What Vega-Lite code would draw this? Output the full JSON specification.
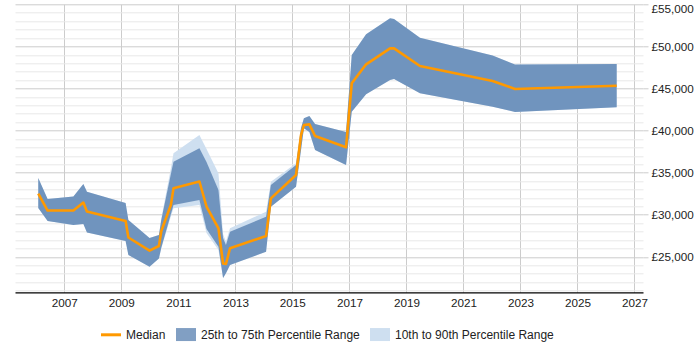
{
  "$schema": "https://vega.github.io/schema/vega-lite/v6.json",
  "width": 628,
  "height": 288,
  "autosize": {"type": "none"},
  "padding": {"left": 15, "top": 4.3, "right": 57, "bottom": 57.7},
  "background": "white",
  "config": {
    "view": {"stroke": null},
    "font": "Liberation Sans"
  },
  "data": {
    "values": [
      {"date": "2006-02-01", "p10": 30800, "p25": 30800, "median": 32520, "p75": 34360, "p90": 34360},
      {"date": "2006-06-01", "p10": 29260, "p25": 29260, "median": 30500, "p75": 31870, "p90": 31870},
      {"date": "2007-04-27", "p10": 28780, "p25": 28780, "median": 30500, "p75": 32170, "p90": 32170},
      {"date": "2007-09-02", "p10": 28900, "p25": 28900, "median": 31450, "p75": 33650, "p90": 33650},
      {"date": "2007-10-18", "p10": 27890, "p25": 27890, "median": 30390, "p75": 32740, "p90": 32740},
      {"date": "2009-02-24", "p10": 26880, "p25": 26880, "median": 29260, "p75": 31390, "p90": 31390},
      {"date": "2009-04-01", "p10": 25220, "p25": 25220, "median": 27300, "p75": 29380, "p90": 29380},
      {"date": "2009-12-28", "p10": 23830, "p25": 23830, "median": 25730, "p75": 27240, "p90": 27240},
      {"date": "2010-04-27", "p10": 24800, "p25": 24800, "median": 26290, "p75": 27590, "p90": 27590},
      {"date": "2010-05-28", "p10": 26000, "p25": 26120, "median": 28070, "p75": 29400, "p90": 29600},
      {"date": "2010-09-27", "p10": 29800, "p25": 30060, "median": 31160, "p75": 34800, "p90": 35500},
      {"date": "2010-10-31", "p10": 30770, "p25": 31160, "median": 33140, "p75": 36300, "p90": 37300},
      {"date": "2011-09-28", "p10": 31160, "p25": 31750, "median": 33950, "p75": 37890, "p90": 39470},
      {"date": "2011-12-28", "p10": 27830, "p25": 28310, "median": 30980, "p75": 36270, "p90": 37810},
      {"date": "2012-05-29", "p10": 25800, "p25": 26200, "median": 28390, "p75": 32940, "p90": 34920},
      {"date": "2012-07-27", "p10": 22480, "p25": 22480, "median": 24210, "p75": 27240, "p90": 27710},
      {"date": "2012-09-02", "p10": 23040, "p25": 23040, "median": 24150, "p75": 26400, "p90": 26800},
      {"date": "2012-10-24", "p10": 24030, "p25": 24030, "median": 26010, "p75": 27990, "p90": 28390},
      {"date": "2014-01-29", "p10": 25610, "p25": 25610, "median": 27470, "p75": 29770, "p90": 30360},
      {"date": "2014-04-01", "p10": 30960, "p25": 30960, "median": 31950, "p75": 33530, "p90": 33930},
      {"date": "2015-02-17", "p10": 33330, "p25": 33330, "median": 34720, "p75": 35910, "p90": 36110},
      {"date": "2015-04-22", "p10": 37690, "p25": 37690, "median": 39470, "p75": 40300, "p90": 40300},
      {"date": "2015-05-29", "p10": 40270, "p25": 40270, "median": 40660, "p75": 41460, "p90": 41460},
      {"date": "2015-08-07", "p10": 39830, "p25": 39830, "median": 40740, "p75": 41730, "p90": 41730},
      {"date": "2015-10-19", "p10": 37690, "p25": 37690, "median": 39350, "p75": 40780, "p90": 40780},
      {"date": "2016-11-19", "p10": 35910, "p25": 35910, "median": 38010, "p75": 39830, "p90": 39830},
      {"date": "2017-01-31", "p10": 42240, "p25": 42240, "median": 45620, "p75": 48980, "p90": 48980},
      {"date": "2017-08-03", "p10": 44310, "p25": 44310, "median": 47870, "p75": 51440, "p90": 51440},
      {"date": "2018-06-06", "p10": 46010, "p25": 46010, "median": 49770, "p75": 53340, "p90": 53340},
      {"date": "2018-07-27", "p10": 46130, "p25": 46130, "median": 49770, "p75": 53250, "p90": 53250},
      {"date": "2019-06-24", "p10": 44430, "p25": 44430, "median": 47670, "p75": 51030, "p90": 51030},
      {"date": "2022-01-10", "p10": 42840, "p25": 42840, "median": 45890, "p75": 48920, "p90": 48920},
      {"date": "2022-10-24", "p10": 42210, "p25": 42210, "median": 44940, "p75": 47850, "p90": 47850},
      {"date": "2026-05-19", "p10": 42760, "p25": 42760, "median": 45330, "p75": 47910, "p90": 47910}
    ]
  },
  "resolve": {"axis": {"y": "independent"}},
  "layer": [
    {
      "mark": {"type": "area", "opacity": 1},
      "encoding": {
        "x": {
          "field": "date",
          "type": "temporal",
          "scale": {"domain": [{"year": 2005, "month": 4, "date": 9}, {"year": 2027, "month": 4, "date": 21}]},
          "axis": {
            "title": null,
            "values": [{"year": 2007}, {"year": 2009}, {"year": 2011}, {"year": 2013}, {"year": 2015}, {"year": 2017}, {"year": 2019}, {"year": 2021}, {"year": 2023}, {"year": 2025}, {"year": 2027}],
            "format": "%Y",
            "labelFont": "Liberation Sans",
            "labelFontSize": 11.7,
            "labelColor": "#222",
            "labelFlush": false,
            "labelOverlap": false,
            "labelPadding": 5,
            "ticks": false,
            "domainColor": "#000",
            "domainWidth": 1.3,
            "grid": true,
            "gridColor": "#cccccc",
            "gridWidth": 1
          }
        },
        "y": {
          "field": "p10",
          "type": "quantitative",
          "scale": {"domain": [20790, 55000], "nice": false, "zero": false},
          "axis": {
            "orient": "left",
            "title": null,
            "values": [21000, 22000, 23000, 24000, 26000, 27000, 28000, 29000, 31000, 32000, 33000, 34000, 36000, 37000, 38000, 39000, 41000, 42000, 43000, 44000, 46000, 47000, 48000, 49000, 51000, 52000, 53000, 54000],
            "labels": false,
            "ticks": false,
            "domain": false,
            "grid": true,
            "gridColor": "#e8e8e8",
            "gridWidth": 1
          }
        },
        "y2": {"field": "p90"},
        "color": {
          "datum": "10th to 90th Percentile Range",
          "type": "nominal",
          "scale": {
            "domain": ["Median", "25th to 75th Percentile Range", "10th to 90th Percentile Range"],
            "range": ["#ff9900", "#3d6ba3", "#cedff0"]
          }
        }
      }
    },
    {
      "mark": {"type": "area", "opacity": 0.65},
      "encoding": {
        "x": {"field": "date", "type": "temporal"},
        "y": {
          "field": "p25",
          "type": "quantitative",
          "axis": {
            "orient": "right",
            "title": null,
            "values": [25000, 30000, 35000, 40000, 45000, 50000, 55000],
            "labelExpr": "'£' + format(datum.value, ',')",
            "labelFont": "Liberation Sans",
            "labelFontSize": 11.7,
            "labelColor": "#222",
            "labelPadding": 3,
            "labelFlush": false,
            "labelOffset": {"condition": {"test": "datum.value === 55000", "value": 4}, "value": 0},
            "tickSize": 5,
            "tickColor": "#cccccc",
            "domain": false,
            "grid": true,
            "gridColor": "#cccccc",
            "gridWidth": 1
          }
        },
        "y2": {"field": "p75"},
        "color": {"datum": "25th to 75th Percentile Range", "type": "nominal"}
      }
    },
    {
      "mark": {"type": "line", "strokeWidth": 2.6, "strokeJoin": "round"},
      "encoding": {
        "x": {"field": "date", "type": "temporal"},
        "y": {"field": "median", "type": "quantitative", "axis": null},
        "color": {
          "datum": "Median",
          "type": "nominal",
          "legend": {
            "title": null,
            "orient": "none",
            "direction": "horizontal",
            "legendX": 90,
            "legendY": 324,
            "symbolSize": 400,
            "labelFont": "Liberation Sans",
            "labelFontSize": 12,
            "labelColor": "#222",
            "labelOffset": 9,
            "columnPadding": 10,
            "encode": {
              "symbols": {
                "update": {
                  "shape": {"signal": "datum.value === 'Median' ? 'M-1,0H1' : 'M-1,-0.65H1V0.65H-1Z'"},
                  "fill": {"signal": "datum.value === 'Median' ? 'transparent' : (datum.value === '10th to 90th Percentile Range' ? '#cedff0' : '#3d6ba3')"},
                  "fillOpacity": {"signal": "datum.value === '10th to 90th Percentile Range' ? 1 : 0.65"},
                  "stroke": {"signal": "datum.value === 'Median' ? '#ff9900' : 'transparent'"},
                  "strokeWidth": {"signal": "datum.value === 'Median' ? 3 : 0"},
                  "opacity": {"value": 1}
                }
              }
            }
          }
        }
      }
    }
  ]
}
